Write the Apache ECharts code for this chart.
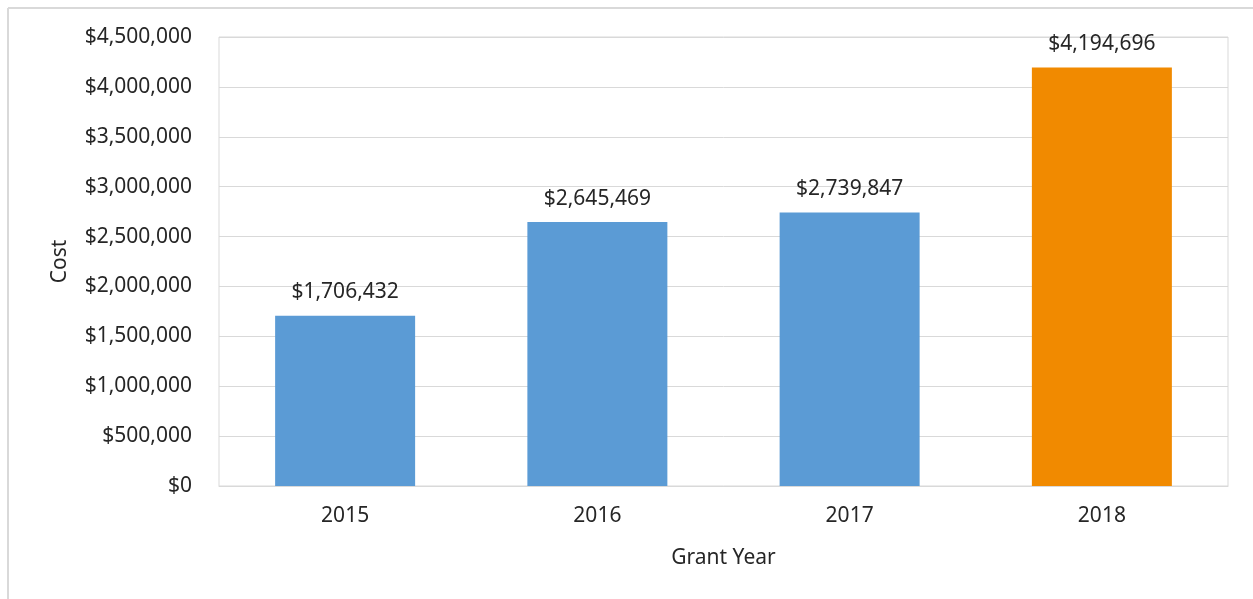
<!DOCTYPE html>
<html>
<head>
<meta charset="utf-8">
<script src="https://cdn.jsdelivr.net/npm/echarts@6/dist/echarts.min.js"></script>
<style>
html,body{margin:0;padding:0;background:#fff;}
#chart{width:1253px;height:599px;}
</style>
</head>
<body>
<div id="chart"></div>
<script>
// Grant cost by year
const years = ['2015', '2016', '2017', '2018'];
const costs = [1706432, 2645469, 2739847, 4194696];
const barColors = ['#5B9BD5', '#5B9BD5', '#5B9BD5', '#F18A00'];

const FONT = '"Noto Sans", "Open Sans", sans-serif';
const FS = 21;
const money = v => '$' + Math.round(v).toLocaleString('en-US');

const chart = echarts.init(document.getElementById('chart'));
chart.setOption({
  backgroundColor: '#ffffff',
  animation: false,
  textStyle: { fontFamily: FONT },
  graphic: [
    { type: 'line', shape: { x1: 8, y1: 8, x2: 1253, y2: 8 }, style: { stroke: '#d9d9d9', lineWidth: 2 } },
    { type: 'line', shape: { x1: 8, y1: 8, x2: 8, y2: 599 }, style: { stroke: '#d9d9d9', lineWidth: 2 } }
  ],
  grid: {
    left: 219, right: 25, top: 37, bottom: 113,
    show: true, borderColor: '#d9d9d9', borderWidth: 1
  },
  xAxis: {
    type: 'category',
    data: years,
    name: 'Grant Year',
    nameLocation: 'middle',
    nameGap: 62,
    nameTextStyle: { fontSize: FS, color: '#262626', fontFamily: FONT },
    axisLine: { lineStyle: { color: '#d9d9d9', width: 1 } },
    axisTick: { show: false },
    axisLabel: { fontSize: FS, color: '#262626', margin: 20, fontFamily: FONT }
  },
  yAxis: {
    type: 'value',
    min: 0, max: 4500000, interval: 500000,
    name: 'Cost',
    nameLocation: 'middle',
    nameGap: 148,
    nameRotate: 90,
    nameTextStyle: { fontSize: FS, color: '#262626', fontFamily: FONT },
    axisLine: { show: false },
    axisTick: { show: false },
    splitLine: { lineStyle: { color: '#d9d9d9', width: 1 } },
    axisLabel: { fontSize: FS, color: '#262626', margin: 27, fontFamily: FONT, formatter: money }
  },
  series: [{
    type: 'bar',
    data: costs.map((v, i) => ({ value: v, itemStyle: { color: barColors[i] } })),
    barWidth: '55.5%',
    label: {
      show: true, position: 'top', distance: 13,
      fontSize: FS, color: '#262626', fontFamily: FONT,
      formatter: p => money(p.value)
    }
  }]
});
</script>
</body>
</html>
